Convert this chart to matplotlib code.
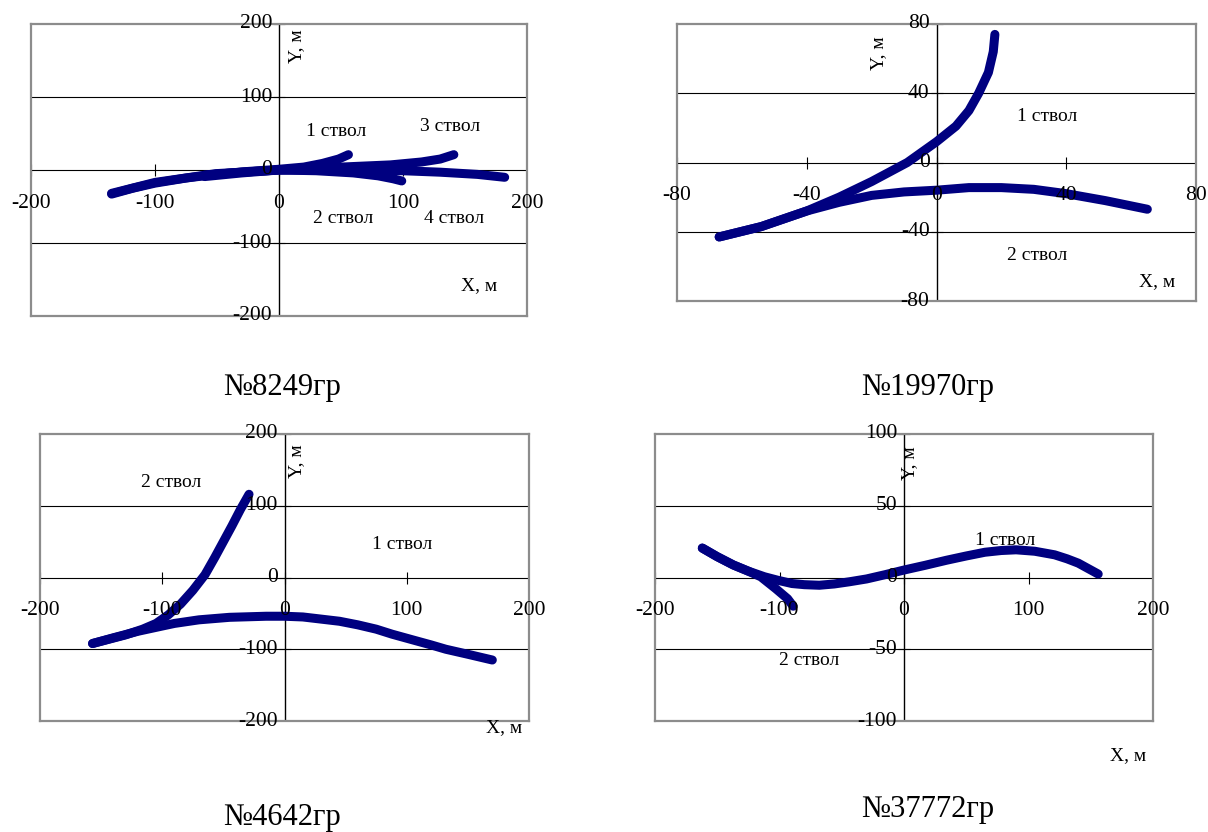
import numpy as np
import matplotlib.pyplot as plt

plt.rcParams['font.family'] = ['Liberation Serif', 'DejaVu Serif']

# --- данные: траектории стволов в плане (X, Y в метрах) ---
# скв. 8249гр
w8249_1_x = [-135, -118, -100, -75, -51, -25, 0, 20, 35, 48, 56]
w8249_1_y = [-33, -25, -18, -11, -6, -2, 1, 4, 9, 15, 21]
w8249_2_x = [-135, -100, -51, 0, 30, 60, 80, 92, 99]
w8249_2_y = [-32, -17, -5, 0, -1, -4, -8, -12, -15]
w8249_3_x = [-60, -30, 0, 50, 90, 115, 130, 141]
w8249_3_y = [-9, -4, 0, 4, 7, 11, 15, 21]
w8249_4_x = [-60, -30, 0, 50, 100, 130, 160, 182]
w8249_4_y = [-7, -3, 0, 0, -1, -3, -6, -10]

# скв. 19970гр
w19970_1_x = [-67, -54, -40, -30, -20, -9, 0, 6, 10, 13, 16, 17.5, 18]
w19970_1_y = [-43, -37, -28, -20, -11, 0, 12, 21, 30, 40, 52, 64, 74]
w19970_2_x = [-67, -54, -40, -30, -20, -10, 0, 10, 20, 30, 40, 52, 65]
w19970_2_y = [-43, -37, -28, -23, -19, -17, -16, -14.5, -14.5, -15.5, -18, -22, -27]

# скв. 4642гр
w4642_1_x = [-157, -140, -120, -101, -90, -70, -45, -15, 0, 15, 30, 45, 60, 75, 88, 105, 120, 132, 150, 170]
w4642_1_y = [-92, -84, -75, -68, -64, -59, -55.5, -54, -54, -55, -58, -61, -66, -72, -79, -87, -94, -100, -107, -115]
w4642_2_x = [-157, -130, -116, -105, -95, -85, -75, -65, -57, -50, -43, -36, -29]
w4642_2_y = [-92, -80, -72, -64, -52, -37, -18, 4, 28, 50, 72, 95, 116]

# скв. 37772гр
w37772_1_x = [-162, -150, -137, -125, -112, -101, -90, -80, -68, -56, -44, -30, -15, 0,
              17, 34, 50, 65, 78, 90, 105, 121, 131, 140, 156]
w37772_1_y = [20.5, 14.5, 8.7, 4.4, 0.5, -2, -4.2, -5, -5.4, -4.5, -3, -1, 2, 5.2,
              8.5, 12, 15, 17.6, 18.8, 19.3, 18.3, 15.8, 13, 10, 2.4]
w37772_2_x = [-162, -150, -137, -125, -115, -103, -93.5, -89]
w37772_2_y = [20.5, 14.5, 8.7, 4.4, 0.5, -7.8, -14.8, -20]

ticks_200 = [-200, -100, 0, 100, 200]
ticks_80 = [-80, -40, 0, 40, 80]
ticks_100 = [-100, -50, 0, 50, 100]

W, H = 1208, 832
fig = plt.figure(figsize=(W / 100, H / 100), dpi=100)
navy = '#000080'


def panel(box, xt, yt, wells, labels, xlab, ylab, caption):
    l, r, t, b = box
    ax = fig.add_axes([l / W, 1 - b / H, (r - l) / W, (b - t) / H])
    ax.set_xlim(xt[0], xt[-1])
    ax.set_ylim(yt[0], yt[-1])
    ax.set_xticks([])
    ax.set_yticks([])
    for s in ax.spines.values():
        s.set_color('#8c8c8c')
        s.set_linewidth(1.6)
    # сетка и оси через ноль
    for v in yt[1:-1]:
        ax.axhline(v, color='k', lw=0.8, zorder=1)
    ax.axvline(0, color='k', lw=1.0, zorder=1)
    ax.plot(xt, [0] * len(xt), ls='none', marker='|', ms=9, mew=0.8, color='k', zorder=1)
    ax.plot([0] * len(yt), yt, ls='none', marker='_', ms=9, mew=0.8, color='k', zorder=1)
    for x, y in wells:
        ax.plot(x, y, color=navy, lw=6.5, solid_capstyle='round', solid_joinstyle='round', zorder=2)
    for v in xt:
        ax.annotate(str(v), (v, 0), xytext=(0, -24), textcoords='offset points',
                    ha='center', va='center', fontsize=15.5, zorder=3, annotation_clip=False)
    for v in yt:
        ax.annotate(str(v), (0, v), xytext=(-5, 0), textcoords='offset points',
                    ha='right', va='center', fontsize=15.5, zorder=3, annotation_clip=False)
    for txt, x, y in labels:
        ax.text(x, y, txt, ha='center', va='center', fontsize=14, zorder=3)
    ax.text(xlab[0], xlab[1], 'X, м', ha='center', va='center', fontsize=14, clip_on=False)
    ax.text(ylab[0], ylab[1], 'Y, м', ha='center', va='center', fontsize=14, rotation=90)
    fig.text(caption[1] / W, 1 - caption[2] / H, caption[0], ha='center', va='center', fontsize=22)
    return ax


panel((31, 527, 24, 316), ticks_200, ticks_200,
      [(w8249_1_x, w8249_1_y), (w8249_2_x, w8249_2_y), (w8249_3_x, w8249_3_y), (w8249_4_x, w8249_4_y)],
      [('1 ствол', 46, 53), ('3 ствол', 138, 60), ('2 ствол', 52, -66), ('4 ствол', 141, -66)],
      (161, -158), (14, 169), ('№8249гр', 282, 388))

panel((677, 1196, 24, 301), ticks_80, ticks_80,
      [(w19970_1_x, w19970_1_y), (w19970_2_x, w19970_2_y)],
      [('1 ствол', 34, 26.5), ('2 ствол', 31, -53.5)],
      (68, -69), (-18, 63), ('№19970гр', 928, 388))

panel((40, 529, 434, 721), ticks_200, ticks_200,
      [(w4642_1_x, w4642_1_y), (w4642_2_x, w4642_2_y)],
      [('2 ствол', -93, 133), ('1 ствол', 96.5, 45.6)],
      (180, -209), (9.6, 162), ('№4642гр', 282, 818))

panel((655, 1153, 434, 721), ticks_200, ticks_100,
      [(w37772_1_x, w37772_1_y), (w37772_2_x, w37772_2_y)],
      [('1 ствол', 81, 26), ('2 ствол', -76, -57.6)],
      (180, -124), (4.7, 80), ('№37772гр', 928, 810))

fig.savefig('out.png', dpi=100)
